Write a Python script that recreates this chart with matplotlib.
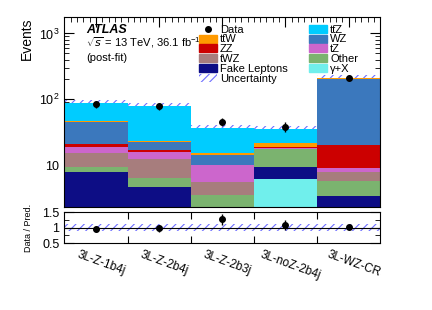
import numpy as np
import matplotlib
matplotlib.use("Agg")
import matplotlib.pyplot as plt
from matplotlib.patches import Patch
from matplotlib.lines import Line2D
from matplotlib.ticker import MultipleLocator, NullFormatter, FuncFormatter

plt.rcParams["font.family"] = ["Liberation Sans", "DejaVu Sans"]
plt.rcParams["hatch.linewidth"] = 0.8
plt.rcParams["mathtext.fontset"] = "custom"
plt.rcParams["mathtext.rm"] = "Liberation Sans"

# regions
regions = ["3L-Z-1b4j", "3L-Z-2b4j", "3L-Z-2b3j", "3L-noZ-2b4j", "3L-WZ-CR"]

# post-fit yields per process (stacked bottom -> top)
gamma_x = [0.3, 0.2, 0.3, 6.2, 0.5]
fakes = [7.5, 4.5, 1.2, 3.1, 2.9]
other = [1.5, 1.7, 2.1, 8.1, 2.3]
twz = [6.1, 6.1, 2.0, 0.4, 2.1]
tz = [3.4, 3.5, 4.4, 0.5, 1.3]
zz = [2.4, 0.8, 0.2, 0.4, 11.1]
wz = [24.6, 5.6, 4.2, 0.3, 186.8]
ttw = [1.1, 0.8, 0.7, 2.9, 1.0]
ttz = [42.1, 56.3, 21.4, 13.6, 2.0]

data = [84, 78, 46, 38.5, 212]
rel_unc = [0.11, 0.11, 0.12, 0.11, 0.11]

TTW = "tt\u0304W"
TTZ = "tt\u0304Z"
GX = "\u03b3+X"

stack = [
    (GX, gamma_x, "#70efec"),
    ("Fake Leptons", fakes, "#0d0d85"),
    ("Other", other, "#7bb36f"),
    ("tWZ", twz, "#a77d7d"),
    ("tZ", tz, "#cc66cc"),
    ("ZZ", zz, "#cc0000"),
    ("WZ", wz, "#3b78bd"),
    (TTW, ttw, "#ff9a00"),
    (TTZ, ttz, "#00ccff"),
]

x = np.arange(len(regions))
centers = x + 0.5
unc_col = "#6f6fff"

fig = plt.figure(figsize=(4.32, 3.10), dpi=100)
ax = fig.add_axes([0.149, 0.331, 0.731, 0.614])
axr = fig.add_axes([0.149, 0.216, 0.731, 0.100])

total = np.zeros(len(regions))
for name, vals, col in stack:
    vals = np.array(vals)
    ax.bar(x, vals, width=1.0, bottom=total, align="edge", color=col, lw=0, zorder=2)
    total += vals

unc = total * np.array(rel_unc)
ax.bar(x, 2 * unc, width=1.0, bottom=total - unc, align="edge", color="none",
       edgecolor=unc_col, hatch="////", lw=0, zorder=1)

data = np.array(data)
ax.errorbar(centers, data, yerr=np.sqrt(data), fmt="o", color="black", ms=4,
            elinewidth=1, capsize=0, zorder=5)

ax.set_yscale("log")
ax.set_ylim(2.3, 1770)
ax.set_xlim(0, len(regions))
ax.set_ylabel("Events", loc="top", fontsize=10)

def fmt(v, pos):
    if abs(v - 10) < 1e-6:
        return "10"
    e = int(round(np.log10(v)))
    return "$10^{%d}$" % e
ax.yaxis.set_major_formatter(FuncFormatter(fmt))
ax.yaxis.set_minor_formatter(NullFormatter())
ax.set_xticks(centers)
ax.xaxis.set_minor_locator(MultipleLocator(0.1))
ax.set_xticklabels([])
ax.tick_params(which="both", direction="in", top=True, right=True, labelsize=9)
ax.tick_params(which="major", length=7)
ax.tick_params(which="minor", length=3.5)

ax.text(0.07, 0.915, "ATLAS", transform=ax.transAxes, fontsize=9,
        fontweight="bold", fontstyle="italic")
ax.text(0.07, 0.845, "$\\sqrt{s}$ = 13 TeV, 36.1 fb$^{-1}$", transform=ax.transAxes, fontsize=8)
ax.text(0.07, 0.77, "(post-fit)", transform=ax.transAxes, fontsize=8)

colors = {n: c for n, v, c in stack}
handles = [
    Line2D([], [], marker="o", color="black", ls="none", ms=4),
    Patch(color=colors[TTW]),
    Patch(color=colors["ZZ"]),
    Patch(color=colors["tWZ"]),
    Patch(color=colors["Fake Leptons"]),
    Patch(facecolor="none", edgecolor=unc_col, hatch="////", lw=0),
    Patch(color=colors[TTZ]),
    Patch(color=colors["WZ"]),
    Patch(color=colors["tZ"]),
    Patch(color=colors["Other"]),
    Patch(color=colors[GX]),
]
labels = ["Data", TTW, "ZZ", "tWZ", "Fake Leptons", "Uncertainty",
          TTZ, "WZ", "tZ", "Other", GX]
ax.legend(handles, labels, ncol=2, loc="upper left", bbox_to_anchor=(0.405, 0.995),
          frameon=False, fontsize=8, labelspacing=-0.02, handlelength=1.6,
          handleheight=0.75, handletextpad=0.3, columnspacing=1.9, borderaxespad=0.2)

# ratio panel
ratio = data / total
rerr = np.sqrt(data) / total
axr.bar(x, 2 * np.array(rel_unc), width=1.0, bottom=1 - np.array(rel_unc), align="edge",
        color="none", edgecolor=unc_col, hatch="////", lw=0, zorder=1)
axr.axhline(1, color="black", lw=0.8, zorder=2)
axr.errorbar(centers, ratio, yerr=rerr, fmt="o", color="black", ms=4,
             elinewidth=1, capsize=0, zorder=5)
axr.set_xlim(0, len(regions))
axr.set_ylim(0.5, 1.5)
axr.set_yticks([0.5, 1, 1.5])
axr.set_yticklabels(["0.5", "1", "1.5"])
axr.yaxis.set_minor_locator(MultipleLocator(0.25))
axr.set_xticks(x[1:])
axr.set_xticklabels([])
axr.set_xticks(centers + 0.08, regions, minor=True)
axr.tick_params(axis="x", which="minor", length=0, labelsize=8.5, rotation=-20, pad=4)
for lab in axr.get_xticklabels(minor=True):
    lab.set_ha("center")
    lab.set_va("top")
axr.tick_params(which="both", direction="in", top=True, right=True)
axr.tick_params(axis="y", labelsize=9)
axr.tick_params(axis="x", which="major", length=5)
axr.tick_params(axis="y", which="major", length=7)
axr.tick_params(axis="y", which="minor", length=3.5)
axr.set_ylabel("Data / Pred.", fontsize=6.5)
axr.yaxis.set_label_coords(-0.1, 0.5)

fig.savefig("out.png", dpi=100)
